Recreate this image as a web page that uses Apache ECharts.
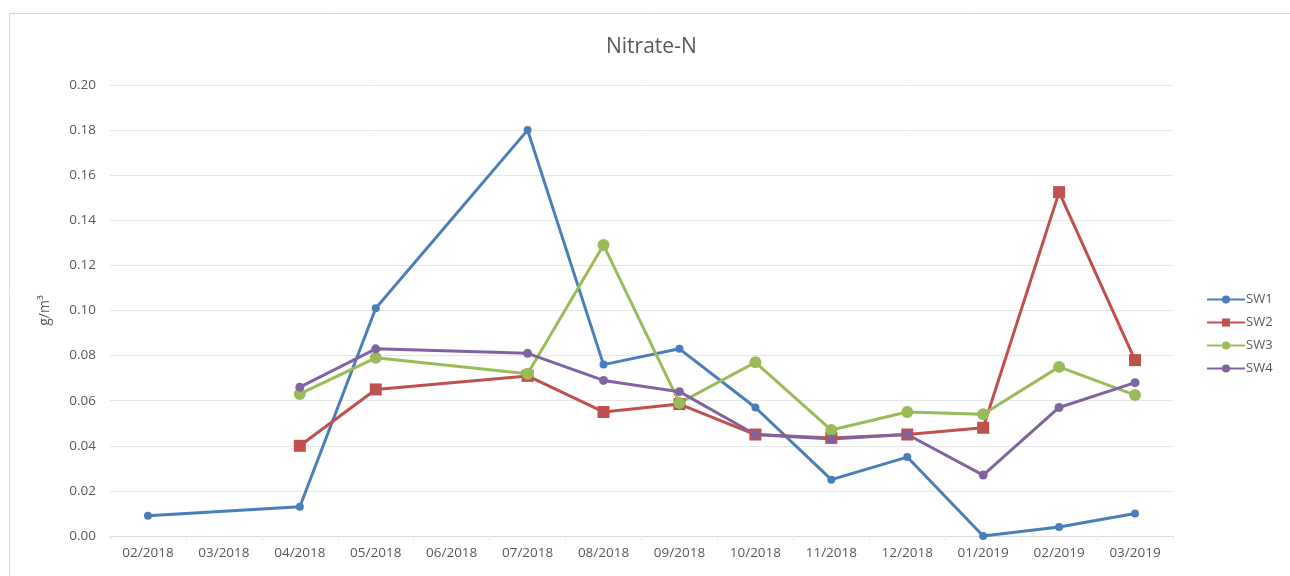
<!DOCTYPE html>
<html>
<head>
<meta charset="utf-8">
<script src="https://cdn.jsdelivr.net/npm/echarts@6/dist/echarts.min.js"></script>
<style>
  html, body { margin: 0; padding: 0; background: #fff; }
  #chart { width: 1290px; height: 576px; }
</style>
</head>
<body>
<div id="chart"></div>
<script>
// Sampling months
const months = ['02/2018', '03/2018', '04/2018', '05/2018', '06/2018', '07/2018', '08/2018',
  '09/2018', '10/2018', '11/2018', '12/2018', '01/2019', '02/2019', '03/2019'];

// Nitrate-N concentrations (g/m³) per site; null = not sampled
const sw1 = [0.009, null, 0.013, 0.101, null, 0.180, 0.076, 0.083, 0.057, 0.025, 0.035, 0.000, 0.004, 0.010];
const sw2 = [null, null, 0.040, 0.065, null, 0.071, 0.055, 0.0585, 0.045, 0.0435, 0.045, 0.048, 0.1525, 0.078];
const sw3 = [null, null, 0.063, 0.079, null, 0.072, 0.129, 0.059, 0.077, 0.047, 0.055, 0.054, 0.075, 0.0625];
const sw4 = [null, null, 0.066, 0.083, null, 0.081, 0.069, 0.064, 0.045, 0.043, 0.045, 0.027, 0.057, 0.068];

const FONT = 'Open Sans';
const TXT = '#595959';

function line(name, data, color, symbol, size) {
  return {
    name, type: 'line', data, connectNulls: true,
    symbol, symbolSize: size,
    lineStyle: { color, width: 3 },
    itemStyle: { color },
    emphasis: { disabled: true }
  };
}

const chart = echarts.init(document.getElementById('chart'), null, { renderer: 'canvas' });
chart.setOption({
  animation: false,
  backgroundColor: '#fff',
  graphic: [{
    type: 'rect', left: 7, top: 11,
    shape: { width: 1300, height: 600 },
    style: { fill: 'none', stroke: '#d9d9d9', lineWidth: 1 },
    silent: true, z: -1
  }],
  title: {
    text: 'Nitrate-N', left: 601, top: 32,
    textStyle: { fontFamily: FONT, fontSize: 21, fontWeight: 'normal', color: TXT }
  },
  legend: {
    orient: 'vertical', left: 1201, top: 288, itemGap: 10,
    itemWidth: 38, itemHeight: 10,
    textStyle: { fontFamily: FONT, fontSize: 13, color: TXT, padding: [0, 0, 0, -4] },
    data: ['SW1', 'SW2', 'SW3', 'SW4']
  },
  grid: { left: 110, right: 117, top: 85, bottom: 40, containLabel: false },
  xAxis: {
    type: 'category', data: months, boundaryGap: true,
    axisLine: { lineStyle: { color: '#d9d9d9', width: 1 } },
    axisTick: { show: true, length: 4, lineStyle: { color: '#e6e6e6' } },
    axisLabel: { fontFamily: FONT, fontSize: 13.5, color: TXT, margin: 10, interval: 0 }
  },
  yAxis: {
    type: 'value', min: 0, max: 0.20, interval: 0.02,
    name: 'g/m³', nameLocation: 'middle', nameGap: 58, nameRotate: 90,
    nameTextStyle: { fontFamily: FONT, fontSize: 14, color: TXT },
    axisLine: { show: false }, axisTick: { show: false },
    splitLine: { lineStyle: { color: '#e6e6e6', width: 1 } },
    axisLabel: {
      fontFamily: FONT, fontSize: 13.5, color: TXT, margin: 14,
      formatter: v => v.toFixed(2)
    }
  },
  series: [
    line('SW1', sw1, '#4A7EBB', 'circle', 8),
    line('SW2', sw2, '#C0504D', 'rect', 12),
    line('SW3', sw3, '#9BBB59', 'circle', 12),
    line('SW4', sw4, '#8064A2', 'circle', 9)
  ]
});
</script>
</body>
</html>
